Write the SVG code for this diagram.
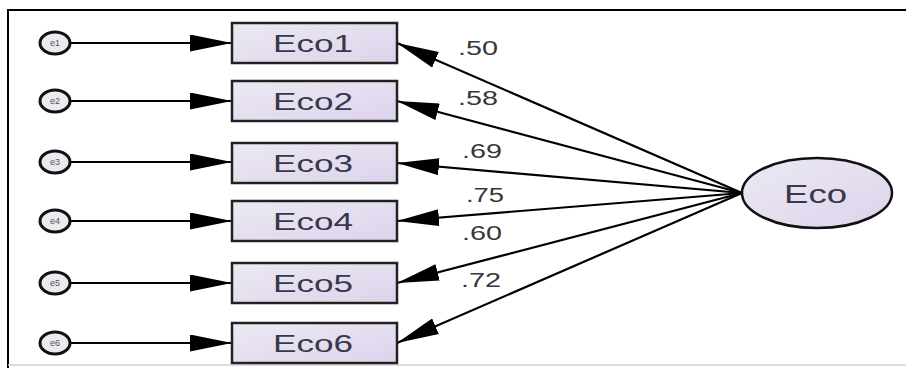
<svg xmlns="http://www.w3.org/2000/svg" width="906" height="368" viewBox="0 0 906 368">
<defs>
<marker id="ah" viewBox="0 0 42 17" refX="42" refY="8.5" markerWidth="42" markerHeight="17" markerUnits="userSpaceOnUse" orient="auto">
<path d="M0,0 L42,8.5 L0,17 Z" fill="#000"/>
</marker>
<linearGradient id="lav" x1="0" y1="0" x2="1" y2="1">
<stop offset="0" stop-color="#ece9f2"/>
<stop offset="1" stop-color="#ddd3ec"/>
</linearGradient>
</defs>
<style>
.err{fill:#eceaf0;stroke:#111;stroke-width:3}
.errt{font-family:"Liberation Sans",Arial,sans-serif;font-size:9px;fill:#555;text-anchor:middle}
.box{fill:url(#lav);stroke:#222;stroke-width:2.5}
.boxt{font-family:"Liberation Sans",Arial,sans-serif;font-size:24px;fill:#38384c}
.lat{fill:url(#lav);stroke:#111;stroke-width:2.5}
.latt{font-family:"Liberation Sans",Arial,sans-serif;font-size:25px;fill:#38384c}
.lbl{font-family:"Liberation Sans",Arial,sans-serif;font-size:20px;fill:#383838}
.conn{stroke:#000;stroke-width:2.2;fill:none;marker-end:url(#ah)}
</style>
<rect x="0" y="0" width="906" height="368" fill="#fff"/>
<path d="M8,368 V10 H906" fill="none" stroke="#000" stroke-width="2"/>
<line x1="8" y1="365" x2="906" y2="365" stroke="#d0d0d0" stroke-width="1.5"/>
<g id="connectors">
<line class="conn" x1="71" y1="43" x2="232" y2="43"/>
<line class="conn" x1="71" y1="101" x2="232" y2="101"/>
<line class="conn" x1="71" y1="162" x2="232" y2="162"/>
<line class="conn" x1="71" y1="221" x2="232" y2="221"/>
<line class="conn" x1="71" y1="283" x2="232" y2="283"/>
<line class="conn" x1="71" y1="343" x2="232" y2="343"/>
<line class="conn" x1="742" y1="193" x2="397" y2="43"/>
<line class="conn" x1="742" y1="193" x2="397" y2="101"/>
<line class="conn" x1="742" y1="193" x2="397" y2="163"/>
<line class="conn" x1="742" y1="193" x2="397" y2="221"/>
<line class="conn" x1="742" y1="193" x2="397" y2="283"/>
<line class="conn" x1="742" y1="193" x2="397" y2="343"/>
<text class="lbl" x="458" y="55" textLength="40" lengthAdjust="spacingAndGlyphs">.50</text>
<text class="lbl" x="458" y="105" textLength="40" lengthAdjust="spacingAndGlyphs">.58</text>
<text class="lbl" x="462" y="158" textLength="40" lengthAdjust="spacingAndGlyphs">.69</text>
<text class="lbl" x="466" y="202" textLength="38" lengthAdjust="spacingAndGlyphs">.75</text>
<text class="lbl" x="462" y="240" textLength="40" lengthAdjust="spacingAndGlyphs">.60</text>
<text class="lbl" x="461" y="287" textLength="40" lengthAdjust="spacingAndGlyphs">.72</text>
</g>
<g id="e1"><ellipse class="err" cx="55" cy="43" rx="15" ry="11"/><text class="errt" x="55" y="46">e1</text></g>
<g id="e2"><ellipse class="err" cx="55" cy="101" rx="15" ry="11"/><text class="errt" x="55" y="104">e2</text></g>
<g id="e3"><ellipse class="err" cx="55" cy="162" rx="15" ry="11"/><text class="errt" x="55" y="165">e3</text></g>
<g id="e4"><ellipse class="err" cx="55" cy="221" rx="15" ry="11"/><text class="errt" x="55" y="224">e4</text></g>
<g id="e5"><ellipse class="err" cx="55" cy="283" rx="15" ry="11"/><text class="errt" x="55" y="286">e5</text></g>
<g id="e6"><ellipse class="err" cx="55" cy="343" rx="15" ry="11"/><text class="errt" x="55" y="346">e6</text></g>
<g id="Eco1"><rect class="box" x="232" y="23" width="165" height="40"/><text class="boxt" x="273" y="52" textLength="80" lengthAdjust="spacingAndGlyphs">Eco1</text></g>
<g id="Eco2"><rect class="box" x="232" y="81" width="165" height="40"/><text class="boxt" x="273" y="110" textLength="80" lengthAdjust="spacingAndGlyphs">Eco2</text></g>
<g id="Eco3"><rect class="box" x="232" y="143" width="165" height="40"/><text class="boxt" x="273" y="172" textLength="80" lengthAdjust="spacingAndGlyphs">Eco3</text></g>
<g id="Eco4"><rect class="box" x="232" y="201" width="165" height="40"/><text class="boxt" x="273" y="230" textLength="80" lengthAdjust="spacingAndGlyphs">Eco4</text></g>
<g id="Eco5"><rect class="box" x="232" y="263" width="165" height="40"/><text class="boxt" x="273" y="292" textLength="80" lengthAdjust="spacingAndGlyphs">Eco5</text></g>
<g id="Eco6"><rect class="box" x="232" y="323" width="165" height="40"/><text class="boxt" x="273" y="352" textLength="80" lengthAdjust="spacingAndGlyphs">Eco6</text></g>
<g id="Eco"><ellipse class="lat" cx="817" cy="193" rx="75" ry="35"/><text class="latt" x="784" y="203" textLength="63" lengthAdjust="spacingAndGlyphs">Eco</text></g>
</svg>
